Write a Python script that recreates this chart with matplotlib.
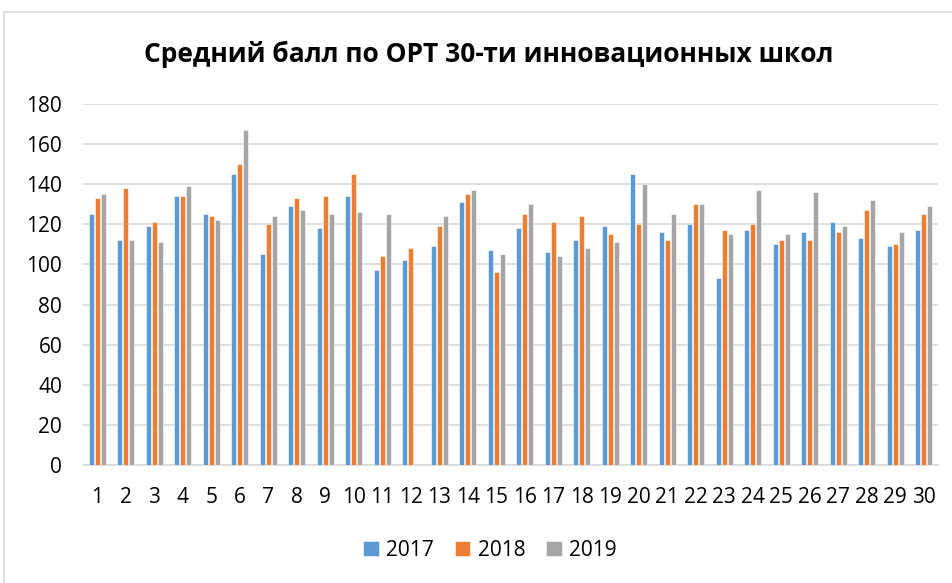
import matplotlib
matplotlib.use("Agg")
import matplotlib.pyplot as plt
from matplotlib.lines import Line2D
import numpy as np

plt.rcParams['font.family'] = ['Open Sans', 'DejaVu Sans']

# data
schools = [str(i) for i in range(1, 31)]
years = ["2017", "2018", "2019"]
score_2017 = [125, 112, 119, 134, 125, 145, 105, 129, 118, 134,
              97, 102, 109, 131, 107, 118, 106, 112, 119, 145,
              116, 120, 93, 117, 110, 116, 121, 113, 109, 117]
score_2018 = [133, 138, 121, 134, 124, 150, 120, 133, 134, 145,
              104, 108, 119, 135, 96, 125, 121, 124, 115, 120,
              112, 130, 117, 120, 112, 112, 116, 127, 110, 125]
score_2019 = [135, 112, 111, 139, 122, 167, 124, 127, 125, 126,
              125, 0, 124, 137, 105, 130, 104, 108, 111, 140,
              125, 130, 115, 137, 115, 136, 119, 132, 116, 129]
colors = ["#5B9BD5", "#ED7D31", "#A5A5A5"]
y_ticks = list(range(0, 181, 20))

W, H = 953, 583
fig = plt.figure(figsize=(W / 100, H / 100), dpi=100)

# chart border (cut at right / bottom like the screenshot)
fig.add_artist(Line2D([4 / W, 1.0], [1 - 12 / H, 1 - 12 / H], color="#D9D9D9", lw=1.2))
fig.add_artist(Line2D([4 / W, 4 / W], [0.0, 1 - 12 / H], color="#D9D9D9", lw=1.2))

ax = fig.add_axes([83 / W, 118 / H, (938 - 83) / W, (465 - 104) / H])

x = np.arange(len(schools))
bar_w = 0.175
step = 0.21
for k, (vals, c, lab) in enumerate(zip([score_2017, score_2018, score_2019], colors, years)):
    ax.bar(x + (k - 1) * step, vals, width=bar_w, color=c, edgecolor="white",
           linewidth=0.4, label=lab, zorder=3)

ax.set_xlim(-0.5, len(schools) - 0.5)
ax.set_ylim(0, 180)
ax.set_yticks(y_ticks)
ax.set_xticks(x)
ax.set_xticklabels(schools)
ax.yaxis.grid(True, color="#D9D9D9", lw=1.2, zorder=0)
ax.tick_params(axis="both", length=0, labelsize=15, colors="black")
ax.tick_params(axis="y", pad=15)
ax.tick_params(axis="x", pad=16)
for s in ["top", "right", "left"]:
    ax.spines[s].set_visible(False)
ax.spines["bottom"].set_color("#D9D9D9")
ax.spines["bottom"].set_linewidth(1.2)

fig.text(489 / W, 1 - 54 / H, "Средний балл по ОРТ 30-ти инновационных школ",
         ha="center", va="center", fontsize=19, fontweight="bold")

fig.legend(loc="center", bbox_to_anchor=(490 / W, 1 - 550 / H), ncol=3,
           frameon=False, fontsize=15, handlelength=0.75, handleheight=0.75,
           handletextpad=0.35, columnspacing=1.0)

fig.savefig("out.png", dpi=100)
